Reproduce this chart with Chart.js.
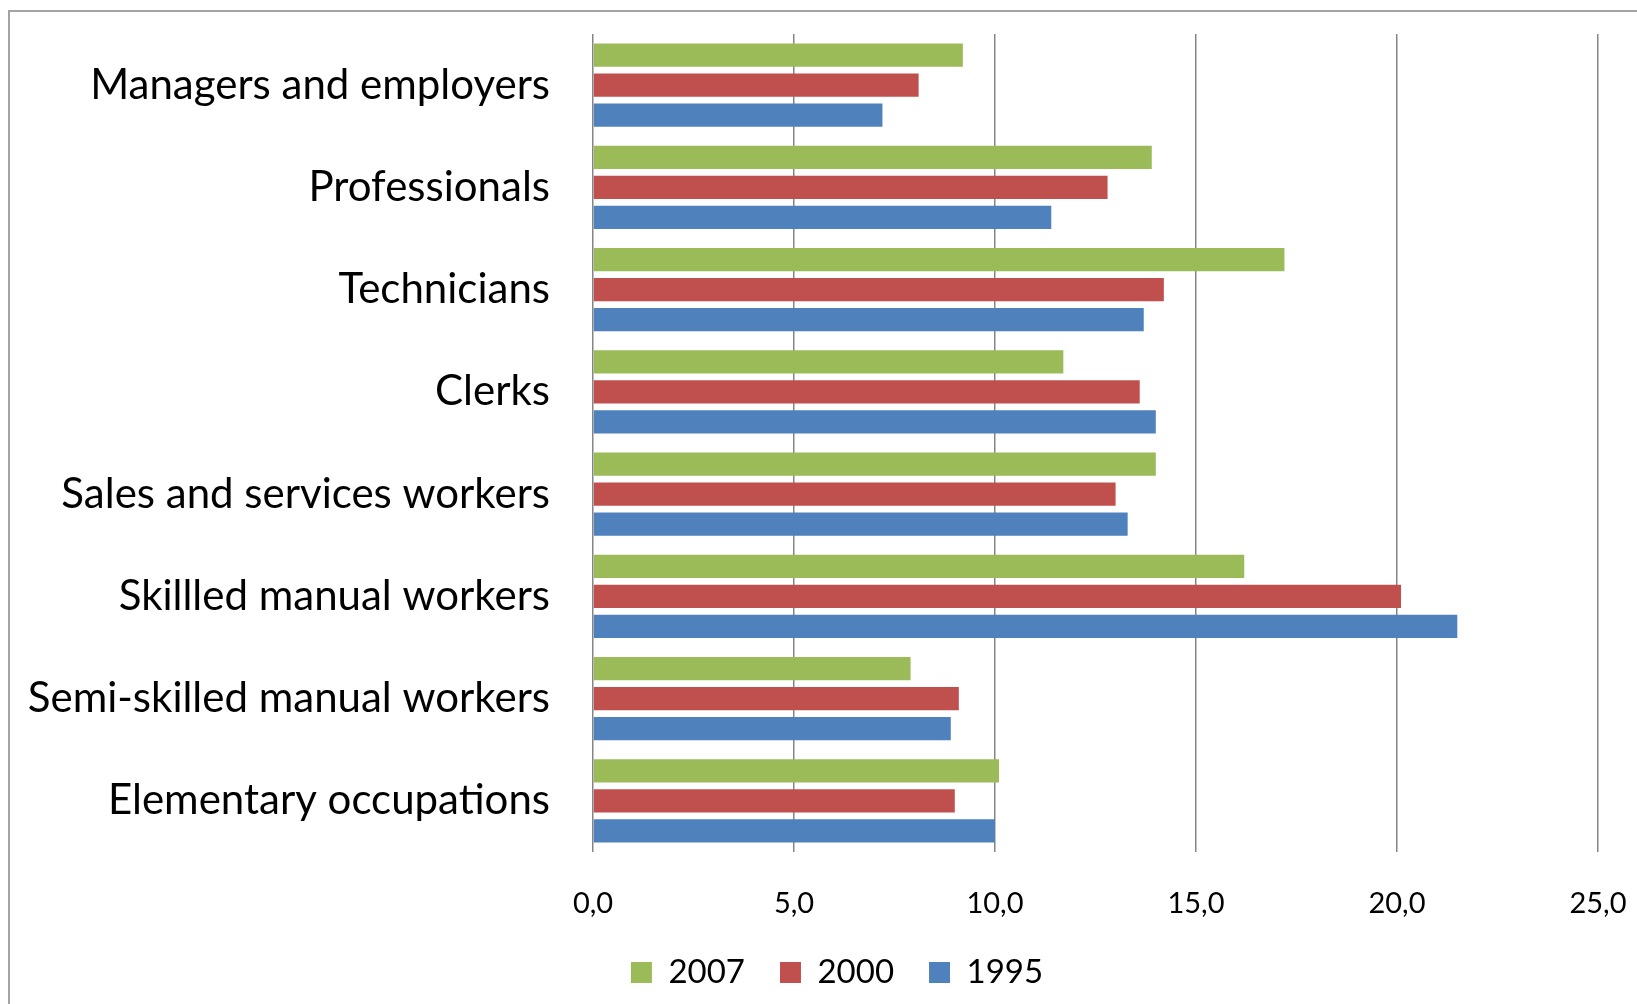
<!DOCTYPE html>
<html>
<head>
<meta charset="utf-8">
<script src="https://cdn.jsdelivr.net/npm/chart.js@4"></script>
<style>
    body { margin: 0; background: #fff; }
    .wrap { position: relative; width: 1637px; height: 1004px; overflow: hidden; }
    .frame {
        position: absolute; left: 8px; top: 10px; right: -10px; bottom: -10px;
        border-top: 2px solid #a3a3a3;
        border-left: 2px solid #a3a3a3;
        pointer-events: none;
    }
</style>
</head>
<body>
<div class="wrap">
    <canvas id="barChart" width="1637" height="1004"></canvas>
    <div class="frame"></div>
</div>
<script>
const categories = [
    'Managers and employers',
    'Professionals',
    'Technicians',
    'Clerks',
    'Sales and services workers',
    'Skillled manual workers',
    'Semi-skilled manual workers',
    'Elementary occupations'
];
const years = ['2007', '2000', '1995'];
const values2007 = [9.2, 13.9, 17.2, 11.7, 14.0, 16.2, 7.9, 10.1];
const values2000 = [8.1, 12.8, 14.2, 13.6, 13.0, 20.1, 9.1, 9.0];
const values1995 = [7.2, 11.4, 13.7, 14.0, 13.3, 21.5, 8.9, 10.0];
const xTicks = [0, 5, 10, 15, 20, 25];

const colors = ['#9bbb59', '#c0504d', '#4f81bd'];
const font = 'Lato, "Open Sans", sans-serif';

let ctx = document.getElementById('barChart').getContext('2d');

// nudge the legend row a bit right of the canvas centre
const legendShift = {
    id: 'legendShift',
    afterLayout(chart) {
        chart.legend.left += 28;
        chart.legend.right += 28;
    }
};

const bars = new Chart(ctx, {
    type: 'bar',
    data: {
        labels: categories,
        datasets: [values2007, values2000, values1995].map((vals, i) => ({
            label: years[i],
            data: vals,
            backgroundColor: colors[i],
            borderWidth: 0,
            barPercentage: 0.777,
            categoryPercentage: 0.882
        }))
    },
    options: {
        indexAxis: 'y',
        responsive: false,
        animation: false,
        layout: {
            padding: { top: 34, left: 20, right: 39, bottom: 5 }
        },
        scales: {
            x: {
                min: 0,
                max: 25,
                afterBuildTicks: (axis) => {
                    axis.ticks = xTicks.map(v => ({ value: v }));
                },
                afterFit: (axis) => {
                    axis.height = 69;
                    axis.paddingLeft = 0;
                    axis.paddingRight = 0;
                },
                grid: { color: '#858585', lineWidth: 1.5, drawTicks: false },
                border: { display: false },
                ticks: {
                    padding: 34,
                    color: '#000',
                    font: { family: font, size: 29 },
                    callback: (v) => Number(v).toFixed(1).replace('.', ',')
                }
            },
            y: {
                afterFit: (axis) => {
                    axis.width = 573;
                    axis.paddingTop = 0;
                    axis.paddingBottom = 0;
                },
                grid: { display: false, drawTicks: false },
                border: { display: false },
                ticks: {
                    padding: 43,
                    color: '#000',
                    font: { family: font, size: 42 }
                }
            }
        },
        plugins: {
            legend: {
                position: 'bottom',
                labels: {
                    boxWidth: 21,
                    boxHeight: 21,
                    padding: 35,
                    color: '#000',
                    font: { family: font, size: 33 }
                }
            },
            tooltip: { enabled: false }
        }
    },
    plugins: [legendShift]
});
</script>
</body>
</html>
